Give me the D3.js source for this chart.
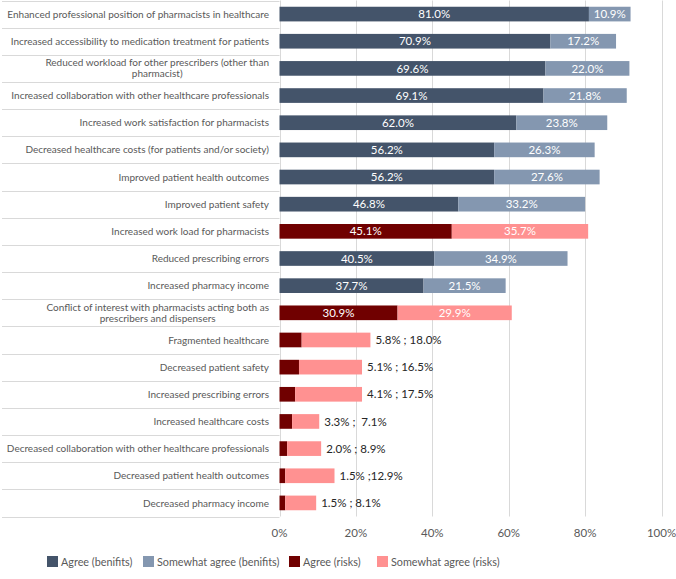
<!DOCTYPE html>
<html>
<head>
<meta charset="utf-8">
<script src="https://cdn.jsdelivr.net/npm/d3@7"></script>
<style>
  body { margin: 0; background: #fff; }
  text { font-family: Lato, "Open Sans", sans-serif; }
</style>
</head>
<body>
<div id="chart"></div>
<script>
// Categories (top to bottom), lines of each label
var categories = [
    ["Enhanced professional position of pharmacists in healthcare"],
    ["Increased accessibility to medication treatment for patients"],
    ["Reduced workload for other prescribers (other than", "pharmacist)"],
    ["Increased collaboration with other healthcare professionals"],
    ["Increased work satisfaction for pharmacists"],
    ["Decreased healthcare costs (for patients and/or society)"],
    ["Improved patient health outcomes"],
    ["Improved patient safety"],
    ["Increased work load for pharmacists"],
    ["Reduced prescribing errors"],
    ["Increased pharmacy income"],
    ["Conflict of interest with pharmacists acting both as", "prescribers and dispensers"],
    ["Fragmented healthcare"],
    ["Decreased patient safety"],
    ["Increased prescribing errors"],
    ["Increased healthcare costs"],
    ["Decreased collaboration with other healthcare professionals"],
    ["Decreased patient health outcomes"],
    ["Decreased pharmacy income"]
];
// benefit (b) or risk (r)
var kind = ["b","b","b","b","b","b","b","b","r","b","b","r","r","r","r","r","r","r","r"];
var agree = [81.0, 70.9, 69.6, 69.1, 62.0, 56.2, 56.2, 46.8, 45.1, 40.5, 37.7, 30.9, 5.8, 5.1, 4.1, 3.3, 2.0, 1.5, 1.5];
var somewhat = [10.9, 17.2, 22.0, 21.8, 23.8, 26.3, 27.6, 33.2, 35.7, 34.9, 21.5, 29.9, 18.0, 16.5, 17.5, 7.1, 8.9, 12.9, 8.1];
// labels written beside the short bars
var outsideLabels = ["", "", "", "", "", "", "", "", "", "", "", "",
    "5.8% ; 18.0%", "5.1% ; 16.5%", "4.1% ; 17.5%", "3.3% ;\u00a0 7.1%", "2.0% ; 8.9%", "1.5% ;12.9%", "1.5% ; 8.1%"];
var xTicks = [0, 20, 40, 60, 80, 100];
var legendLabels = ["Agree (benifits)", "Somewhat agree (benifits)", "Agree (risks)", "Somewhat agree (risks)"];

var colors = {
    b: ["#44546a", "#8497b0"],
    r: ["#700000", "#ff9191"]
};

var width = 676, height = 579;
var plotLeft = 279.5, plotRight = 661.5, plotTop = 0.5, plotBottom = 516.5;

var svg = d3.select("#chart").append("svg")
    .attr("width", width)
    .attr("height", height);

var rows = categories.map(function(c, i) {
    return { i: i, lines: c, kind: kind[i], a: agree[i], s: somewhat[i], out: outsideLabels[i] };
});

var x = d3.scaleLinear().domain([0, 100]).range([plotLeft, plotRight]);
var y = d3.scaleBand()
    .domain(d3.range(rows.length))
    .range([plotTop, plotBottom])
    .paddingInner(0.46)
    .paddingOuter(0.23);
var step = y.step();

// vertical gridlines
svg.append("g").selectAll("line")
    .data(xTicks)
    .enter().append("line")
    .attr("x1", function(d) { return Math.round(x(d)) + 0.5; })
    .attr("x2", function(d) { return Math.round(x(d)) + 0.5; })
    .attr("y1", plotTop)
    .attr("y2", plotBottom)
    .attr("stroke", "#d9d9d9")
    .attr("stroke-width", 1);

// category separators on the label side
var seps = d3.range(rows.length + 1).map(function(k) { return plotTop + k * step; });
svg.append("g").selectAll("line")
    .data(seps)
    .enter().append("line")
    .attr("x1", 2)
    .attr("x2", plotLeft)
    .attr("y1", function(d) { return Math.round(d) + 0.5; })
    .attr("y2", function(d) { return Math.round(d) + 0.5; })
    .attr("stroke", "#d9d9d9")
    .attr("stroke-width", 1);

// bars
var bars = svg.append("g");
bars.selectAll(".agree")
    .data(rows)
    .enter().append("rect")
    .attr("x", x(0))
    .attr("y", function(d) { return y(d.i); })
    .attr("width", function(d) { return x(d.a) - x(0); })
    .attr("height", y.bandwidth())
    .attr("fill", function(d) { return colors[d.kind][0]; });

bars.selectAll(".somewhat")
    .data(rows)
    .enter().append("rect")
    .attr("x", function(d) { return x(d.a); })
    .attr("y", function(d) { return y(d.i); })
    .attr("width", function(d) { return x(d.a + d.s) - x(d.a); })
    .attr("height", y.bandwidth())
    .attr("fill", function(d) { return colors[d.kind][1]; });

// value labels inside the bars
var inside = rows.filter(function(d) { return d.out === ""; });
var valueLabels = svg.append("g")
    .attr("fill", "#fff")
    .style("font-size", "11.5px")
    .attr("text-anchor", "middle");
valueLabels.selectAll(".la")
    .data(inside)
    .enter().append("text")
    .attr("x", function(d) { return (x(0) + x(d.a)) / 2; })
    .attr("y", function(d) { return y(d.i) + y.bandwidth() / 2; })
    .attr("dy", "0.36em")
    .text(function(d) { return d.a.toFixed(1) + "%"; });
valueLabels.selectAll(".ls")
    .data(inside)
    .enter().append("text")
    .attr("x", function(d) { return (x(d.a) + x(d.a + d.s)) / 2; })
    .attr("y", function(d) { return y(d.i) + y.bandwidth() / 2; })
    .attr("dy", "0.36em")
    .text(function(d) { return d.s.toFixed(1) + "%"; });

// labels beside the short bars
svg.append("g")
    .attr("fill", "#262626")
    .style("font-size", "11.5px")
    .selectAll("text")
    .data(rows.filter(function(d) { return d.out !== ""; }))
    .enter().append("text")
    .attr("x", function(d) { return x(d.a + d.s) + 5; })
    .attr("y", function(d) { return y(d.i) + y.bandwidth() / 2; })
    .attr("dy", "0.36em")
    .text(function(d) { return d.out; });

// category labels
var catLabels = svg.append("g")
    .attr("fill", "#595959")
    .style("font-size", "10px");
rows.forEach(function(d) {
    var cy = y(d.i) + y.bandwidth() / 2;
    var lh = 11;
    if (d.lines.length === 1) {
        catLabels.append("text")
            .attr("x", 269)
            .attr("y", cy)
            .attr("dy", "0.36em")
            .attr("text-anchor", "end")
            .text(d.lines[0]);
    } else {
        // wrapped label: lines centred on each other, block right aligned
        var tmp = catLabels.append("text").text(d.lines[0]);
        var w = tmp.node().getComputedTextLength();
        tmp.remove();
        d.lines.forEach(function(line, k) {
            catLabels.append("text")
                .attr("x", 269 - w / 2)
                .attr("y", cy + (k - (d.lines.length - 1) / 2) * lh)
                .attr("dy", "0.36em")
                .attr("text-anchor", "middle")
                .text(line);
        });
    }
});

// x axis tick labels
svg.append("g")
    .attr("fill", "#595959")
    .style("font-size", "11.5px")
    .attr("text-anchor", "middle")
    .selectAll("text")
    .data(xTicks)
    .enter().append("text")
    .attr("x", function(d) { return x(d); })
    .attr("y", 533)
    .attr("dy", "0.36em")
    .text(function(d) { return d + "%"; });

// legend
var legendColors = [colors.b[0], colors.b[1], colors.r[0], colors.r[1]];
var legendX = [47, 143, 289, 377];
var legend = svg.append("g");
legendLabels.forEach(function(l, i) {
    legend.append("rect")
        .attr("x", legendX[i])
        .attr("y", 556)
        .attr("width", 11)
        .attr("height", 11)
        .attr("fill", legendColors[i]);
    legend.append("text")
        .attr("x", legendX[i] + 14)
        .attr("y", 562)
        .attr("dy", "0.36em")
        .attr("fill", "#595959")
        .style("font-size", "10.8px")
        .text(l);
});
</script>
</body>
</html>
